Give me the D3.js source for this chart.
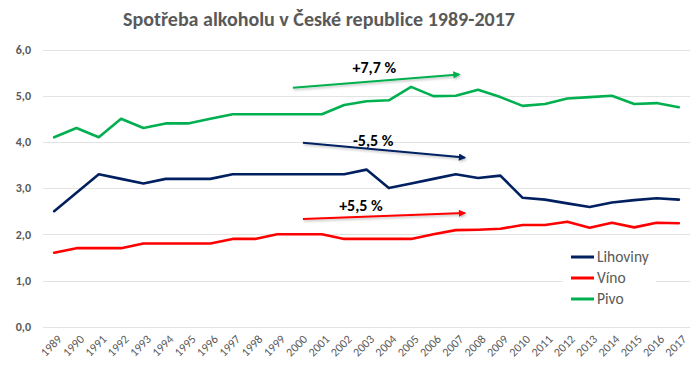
<!DOCTYPE html>
<html>
<head>
<meta charset="utf-8">
<script src="https://cdn.jsdelivr.net/npm/d3@7"></script>
<style>
  html, body { margin: 0; padding: 0; background: #fff; }
  svg { display: block; font-family: Carlito, "Liberation Sans", Arial, sans-serif; }
</style>
</head>
<body>
<svg id="chart" width="700" height="366"></svg>
<script>
const title = "Spotřeba alkoholu v České republice 1989-2017";
const years = d3.range(1989, 2018);
const seriesNames = ["Lihoviny", "Víno", "Pivo"];
const seriesColors = ["#002060", "#FF0000", "#00B050"];
const lihoviny = [2.5, 2.9, 3.3, 3.2, 3.1, 3.2, 3.2, 3.2, 3.3, 3.3, 3.3, 3.3, 3.3, 3.3, 3.4, 3.0, 3.1, 3.2, 3.3, 3.22, 3.27, 2.79, 2.75, 2.67, 2.59, 2.69, 2.74, 2.78, 2.75];
const vino = [1.6, 1.7, 1.7, 1.7, 1.8, 1.8, 1.8, 1.8, 1.9, 1.9, 2.0, 2.0, 2.0, 1.9, 1.9, 1.9, 1.9, 2.0, 2.09, 2.1, 2.12, 2.2, 2.2, 2.27, 2.14, 2.25, 2.15, 2.25, 2.24];
const pivo = [4.1, 4.3, 4.1, 4.5, 4.3, 4.4, 4.4, 4.5, 4.6, 4.6, 4.6, 4.6, 4.6, 4.8, 4.88, 4.9, 5.19, 4.99, 5.0, 5.13, 4.97, 4.78, 4.82, 4.94, 4.97, 5.0, 4.82, 4.84, 4.75];
const yTicks = [0, 1, 2, 3, 4, 5, 6];
// trend annotations: [startYear, startValue, endYear, endValue]
const trendLabels = ["-5,5 %", "+5,5 %", "+7,7 %"];
const trendArrows = [
  [2000.15, 3.98, 2007.4, 3.66],
  [2000.15, 2.33, 2007.4, 2.46],
  [1999.7, 5.17, 2007.15, 5.46]
];
const trendLabelPos = [[2003.3, 3.92], [2002.75, 2.5], [2003.35, 5.5]];

const series = [lihoviny, vino, pivo];
const svg = d3.select("#chart");
const fmt = v => d3.format(".1f")(v).replace(".", ",");

const x = d3.scalePoint().domain(years).range([43, 690]).padding(0.5);
const xl = d3.scaleLinear().domain([1989, 2017]).range([x(1989), x(2017)]);
const y = d3.scaleLinear().domain([0, 6]).range([326.7, 49.5]);

// defs: arrow markers + shadow
const defs = svg.append("defs");
const shadow = defs.append("filter").attr("id", "shadow").attr("x", "-10%").attr("y", "-100%").attr("width", "120%").attr("height", "300%");
shadow.append("feDropShadow").attr("dx", 1).attr("dy", 1.5).attr("stdDeviation", 1).attr("flood-color", "#000").attr("flood-opacity", 0.25);
seriesColors.forEach((c, i) => {
  defs.append("marker").attr("id", "arr" + i)
    .attr("viewBox", "0 0 10 10").attr("refX", 8).attr("refY", 5)
    .attr("markerWidth", 4.2).attr("markerHeight", 3.6).attr("markerUnits", "strokeWidth")
    .attr("orient", "auto")
    .append("path").attr("d", "M0,0 L10,5 L0,10 z").attr("fill", c);
});

// title
svg.append("text")
  .attr("x", 123).attr("y", 26)
  .attr("font-size", 20).attr("font-weight", "bold").attr("fill", "#595959")
  .attr("textLength", 392).attr("lengthAdjust", "spacingAndGlyphs")
  .text(title);

// gridlines
svg.append("g").selectAll("line").data(yTicks).join("line")
  .attr("x1", 43).attr("x2", 690)
  .attr("y1", d => Math.round(y(d)) + 0.5).attr("y2", d => Math.round(y(d)) + 0.5)
  .attr("stroke", "#e3e3e3").attr("stroke-width", 1);

// y axis labels
const yAxis = d3.axisLeft(y).tickValues(yTicks).tickFormat(fmt).tickSize(0).tickPadding(0);
const yg = svg.append("g").attr("transform", "translate(31,0)").call(yAxis);
yg.select(".domain").remove();
yg.selectAll("text").attr("font-size", 12).attr("font-weight", "bold").attr("fill", "#595959")
  .attr("font-family", "Carlito, 'Liberation Sans', Arial, sans-serif");

// x axis labels
const xAxis = d3.axisBottom(x).tickSize(0).tickPadding(0);
const xg = svg.append("g").attr("transform", "translate(0,337)").call(xAxis);
xg.select(".domain").remove();
xg.selectAll("text")
  .attr("font-size", 12).attr("fill", "#595959")
  .attr("font-family", "Carlito, 'Liberation Sans', Arial, sans-serif")
  .attr("text-anchor", "end").attr("dy", "0.35em")
  .attr("transform", "translate(5,0) rotate(-45)");

// series lines
const line = d3.line().x((d, i) => x(years[i])).y(d => y(d));
svg.append("g").selectAll("path").data(series).join("path")
  .attr("d", d => line(d))
  .attr("fill", "none")
  .attr("stroke", (d, i) => seriesColors[i])
  .attr("stroke-width", 2.6)
  .attr("stroke-linejoin", "round").attr("stroke-linecap", "round");

// trend arrows
const ag = svg.append("g");
trendArrows.forEach((a, i) => {
  ag.append("line")
    .attr("x1", xl(a[0])).attr("y1", y(a[1]))
    .attr("x2", xl(a[2])).attr("y2", y(a[3]))
    .attr("stroke", seriesColors[i]).attr("stroke-width", 2)
    .attr("marker-end", `url(#arr${i})`)
    .attr("filter", "url(#shadow)");
  ag.append("text")
    .attr("x", xl(trendLabelPos[i][0])).attr("y", y(trendLabelPos[i][1]))
    .attr("text-anchor", "middle")
    .attr("font-size", 16).attr("font-weight", "bold").attr("fill", "#000")
    .text(trendLabels[i]);
});

// legend
const lg = svg.append("g");
lg.append("rect").attr("x", 563).attr("y", 242).attr("width", 93).attr("height", 69).attr("fill", "#fff");
seriesNames.forEach((n, i) => {
  const yy = 257 + i * 21;
  lg.append("line").attr("x1", 571).attr("x2", 594).attr("y1", yy).attr("y2", yy)
    .attr("stroke", seriesColors[i]).attr("stroke-width", 3);
  lg.append("text").attr("x", 597).attr("y", yy).attr("dy", "0.35em")
    .attr("font-size", 15.5).attr("fill", "#595959").text(n);
});
</script>
</body>
</html>
